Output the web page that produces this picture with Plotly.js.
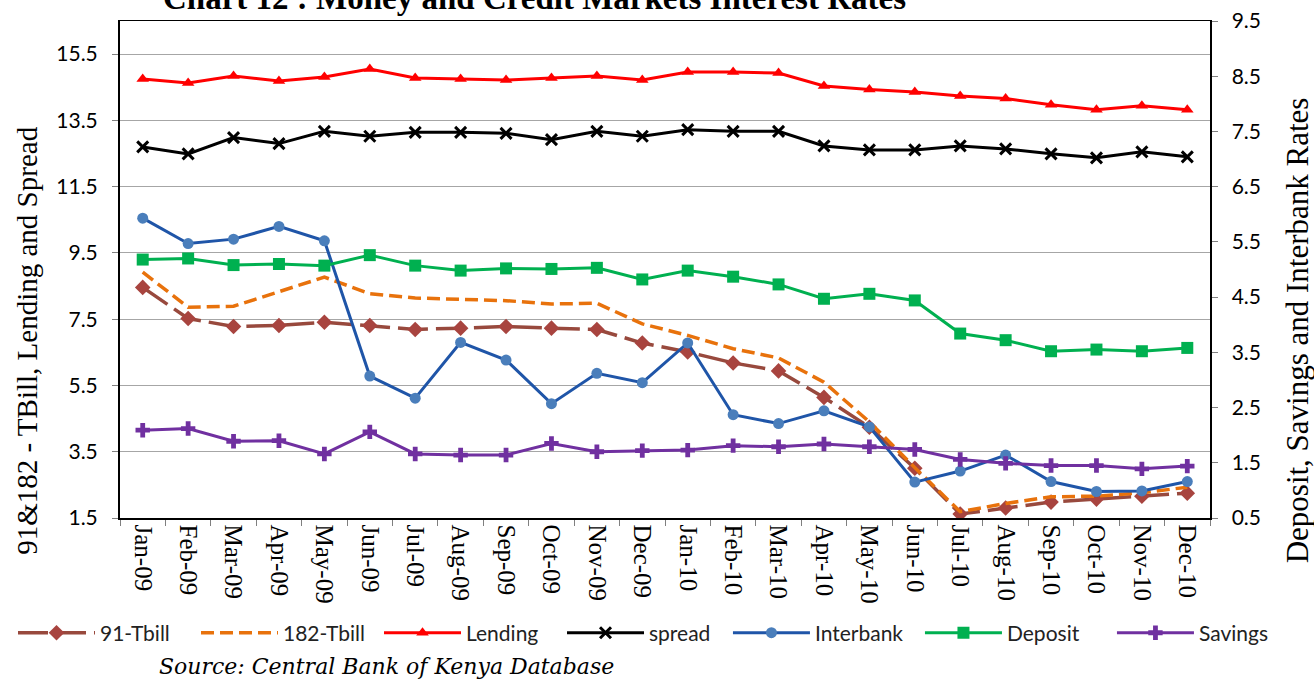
<!DOCTYPE html>
<html>
<head>
<meta charset="utf-8">
<script src="https://cdn.plot.ly/plotly-3.0.1.min.js"></script>
<style>html,body{margin:0;padding:0;background:#fff;}#chart{width:1314px;height:680px;}</style>
</head>
<body>
<div id="chart"></div>
<script>
const months = ['Jan-09','Feb-09','Mar-09','Apr-09','May-09','Jun-09','Jul-09','Aug-09','Sep-09','Oct-09','Nov-09','Dec-09',
                'Jan-10','Feb-10','Mar-10','Apr-10','May-10','Jun-10','Jul-10','Aug-10','Sep-10','Oct-10','Nov-10','Dec-10'];
const tbill91  = [8.46,7.52,7.28,7.31,7.41,7.31,7.19,7.23,7.28,7.23,7.19,6.78,6.51,6.18,5.94,5.14,4.24,3.00,1.62,1.80,1.98,2.07,2.16,2.25];
const tbill182 = [8.92,7.86,7.89,8.32,8.77,8.27,8.14,8.10,8.06,7.96,7.98,7.36,7.01,6.61,6.33,5.60,4.40,3.02,1.69,1.94,2.14,2.16,2.26,2.43];
const lending  = [14.75,14.63,14.84,14.69,14.81,15.05,14.78,14.75,14.72,14.78,14.84,14.72,14.96,14.96,14.93,14.54,14.43,14.36,14.24,14.16,13.97,13.82,13.94,13.82];
const spread   = [12.70,12.49,12.98,12.80,13.17,13.02,13.14,13.14,13.11,12.92,13.17,13.02,13.22,13.17,13.17,12.73,12.61,12.61,12.73,12.64,12.49,12.37,12.55,12.40];
const interbank= [5.93,5.47,5.55,5.78,5.52,3.07,2.67,3.68,3.36,2.57,3.12,2.95,3.67,2.37,2.21,2.44,2.15,1.15,1.35,1.64,1.16,0.98,0.99,1.16];
const deposit  = [5.18,5.20,5.08,5.10,5.07,5.26,5.07,4.98,5.02,5.01,5.03,4.82,4.98,4.87,4.73,4.47,4.56,4.44,3.84,3.72,3.52,3.55,3.52,3.58];
const savings  = [2.09,2.12,1.89,1.90,1.66,2.06,1.66,1.64,1.64,1.85,1.70,1.72,1.73,1.81,1.79,1.84,1.79,1.74,1.56,1.49,1.45,1.45,1.39,1.44];

const leftTicks = [1.5,3.5,5.5,7.5,9.5,11.5,13.5,15.5];
const rightTicks = [0.5,1.5,2.5,3.5,4.5,5.5,6.5,7.5,8.5,9.5];

const traces = [
  {name:'91-Tbill', legend:'legend', x:months, y:tbill91, yaxis:'y', type:'scatter', mode:'lines+markers',
   line:{color:'#98493D', width:3.5, dash:'30px,8px'}, marker:{symbol:'diamond', size:12, color:'#A8443F'}},
  {name:'182-Tbill', legend:'legend', x:months, y:tbill182, yaxis:'y', type:'scatter', mode:'lines',
   line:{color:'#E8720C', width:3.5, dash:'13px,6px'}},
  {name:'Lending', legend:'legend', x:months, y:lending, yaxis:'y', type:'scatter', mode:'lines+markers',
   line:{color:'#FF0000', width:3}, marker:{symbol:'triangle-up', size:11, color:'#FF0000'}},
  {name:'spread', legend:'legend', x:months, y:spread, yaxis:'y', type:'scatter', mode:'lines+markers',
   line:{color:'#000000', width:3}, marker:{symbol:'x-thin', size:11, color:'#000000', line:{color:'#000000', width:3}}},
  {name:'Interbank', legend:'legend2', x:months, y:interbank, yaxis:'y2', type:'scatter', mode:'lines+markers',
   line:{color:'#1F55A8', width:3}, marker:{symbol:'circle', size:11, color:'#4A7EBB'}},
  {name:'Deposit', legend:'legend2', x:months, y:deposit, yaxis:'y2', type:'scatter', mode:'lines+markers',
   line:{color:'#00B050', width:3}, marker:{symbol:'square', size:12, color:'#00B050'}},
  {name:'Savings', legend:'legend2', x:months, y:savings, yaxis:'y2', type:'scatter', mode:'lines+markers',
   line:{color:'#7030A0', width:3}, marker:{symbol:'cross', size:12, color:'#7030A0'}}
];

const legendFont = {family:'Lato, sans-serif', size:21, color:'#222'};

const layout = {
  width:1314, height:680,
  margin:{l:120, r:104, t:21, b:162},
  paper_bgcolor:'#ffffff', plot_bgcolor:'#ffffff',
  showlegend:true,
  legend:{orientation:'h', xref:'container', yref:'container', x:0.0099, y:0.069, xanchor:'left', yanchor:'middle',
          bgcolor:'rgba(0,0,0,0)', font:legendFont, traceorder:'normal', itemwidth:77,
          entrywidth:91, entrywidthmode:'pixels'},
  legend2:{orientation:'h', xref:'container', yref:'container', x:0.554, y:0.069, xanchor:'left', yanchor:'middle',
          bgcolor:'rgba(0,0,0,0)', font:legendFont, traceorder:'normal', itemwidth:77,
          entrywidth:100, entrywidthmode:'pixels'},
  xaxis:{type:'category', range:[-0.5,23.5], tickangle:90, ticks:'outside', tickson:'boundaries', ticklen:6,
         tickcolor:'#808080', showline:true, linecolor:'#000', linewidth:1.5, mirror:true, showgrid:false,
         tickfont:{family:'Liberation Serif, Times New Roman, serif', size:25, color:'#000'}},
  yaxis:{range:[1.5,16.5], tickvals:leftTicks, ticktext:leftTicks.map(v=>v.toFixed(1)), ticks:'outside', ticklen:6,
         tickcolor:'#808080', showline:true, linecolor:'#000', linewidth:2, showgrid:true, gridcolor:'#A6A6A6', gridwidth:1,
         zeroline:false, ticklabelstandoff:10, tickfont:{family:'Lato, sans-serif', size:21, color:'#000'}},
  yaxis2:{range:[0.5,9.5], tickvals:rightTicks, ticktext:rightTicks.map(v=>v.toFixed(1)), overlaying:'y', side:'right',
          ticks:'outside', ticklen:6, tickcolor:'#808080', showline:true, linecolor:'#000', linewidth:1.5, showgrid:false,
          zeroline:false, ticklabelstandoff:10, tickfont:{family:'Lato, sans-serif', size:21, color:'#000'}},
  annotations:[
    {text:'<b>Chart 12 : Money and Credit Markets Interest Rates</b>', xref:'paper', yref:'paper', x:0.38, y:1.046,
     xanchor:'center', yanchor:'middle', showarrow:false, font:{family:'Liberation Serif, Times New Roman, serif', size:33, color:'#000'}},
    {text:'91&182 - TBill, Lending and Spread', xref:'paper', yref:'paper', x:-0.086, y:0.357, textangle:-90,
     xanchor:'center', yanchor:'middle', showarrow:false, font:{family:'Liberation Serif, Times New Roman, serif', size:29, color:'#000'}},
    {text:'Deposit, Savings and Interbank Rates', xref:'paper', yref:'paper', x:1.08, y:0.378, textangle:-90,
     xanchor:'center', yanchor:'middle', showarrow:false, font:{family:'Liberation Serif, Times New Roman, serif', size:31, color:'#000'}},
    {text:'<i>Source: Central Bank of Kenya Database</i>', xref:'paper', yref:'paper', x:0.034, y:-0.299,
     xanchor:'left', yanchor:'middle', showarrow:false, font:{family:'DejaVu Serif, serif', size:22, color:'#000'}}
  ]
};

Plotly.newPlot('chart', traces, layout, {displayModeBar:false, staticPlot:true});
</script>
</body>
</html>
